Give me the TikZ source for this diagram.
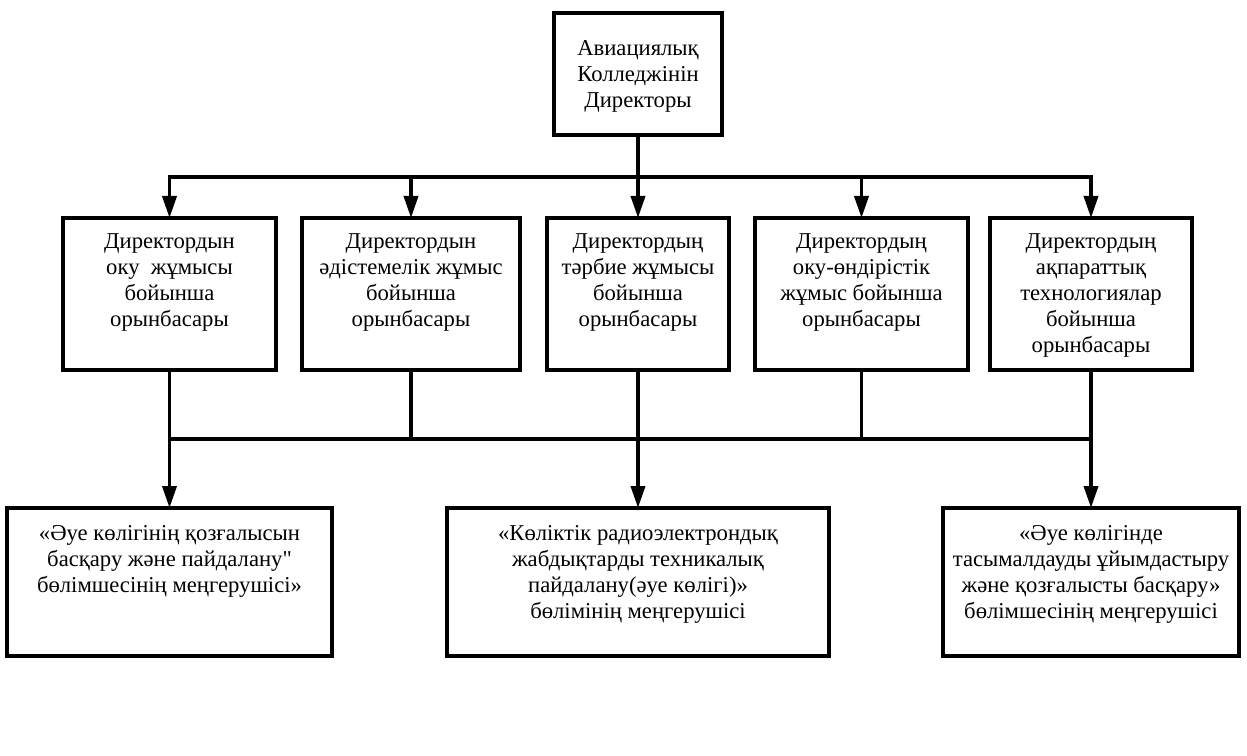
\documentclass[tikz,border=0pt]{standalone}
\usepackage{fontspec}
\setmainfont{Liberation Serif}
\usepackage{tikz}
\usetikzlibrary{shapes,arrows.meta,positioning,calc}

\tikzset{
  box/.style={draw=black, line width=3pt, inner sep=0pt, outer sep=0pt},
  txt/.style={align=center, inner sep=0pt, font=\fontsize{17pt}{19.5pt}\selectfont},
  line/.style={draw=black, line width=2.8pt, line cap=rect},
  >={Triangle[width=10.5pt,length=16.5pt]}
}

\begin{document}
\begin{tikzpicture}[x=0.75pt,y=-0.75pt]
            \useasboundingbox (0,0) rectangle (1247,756);
            % director of the college
            \node[box, minimum width=126pt, minimum height=91.5pt] (dir) at (638,74) {};
            \node[txt, below=20.25pt of dir.north] (dirt) {Авиациялық\\Колледжінін\\Директоры};

            % deputies, one row
            \node[box, minimum width=159.75pt, minimum height=114pt] (b1) at (169.5,294) {};
            \node[box, minimum width=163.5pt, minimum height=114pt] (b2) at (411,294) {};
            \node[box, minimum width=136.5pt, minimum height=114pt] (b3) at (638,294) {};
            \node[box, minimum width=159.75pt, minimum height=114pt] (b4) at (861.5,294) {};
            \node[box, minimum width=151.5pt, minimum height=114pt] (b5) at (1091,294) {};
            \node[txt, below=11.25pt of b1.north] (b1t) {Директордын\\оку\ \ жұмысы\\бойынша\\орынбасары};
            \node[txt, below=11.25pt of b2.north] (b2t) {Директордын\\әдістемелік жұмыс\\бойынша\\орынбасары};
            \node[txt, below=11.25pt of b3.north] (b3t) {Директордың\\тәрбие жұмысы\\бойынша\\орынбасары};
            \node[txt, below=11.25pt of b4.north] (b4t) {Директордың\\оку-өндірістік\\жұмыс бойынша\\орынбасары};
            \node[txt, below=11.25pt of b5.north] (b5t) {Директордың\\ақпараттық\\технологиялар\\бойынша\\орынбасары};

            % heads of the departments
            \node[box, minimum width=243.75pt, minimum height=111pt] (c1) at (169.5,582) {};
            \node[box, minimum width=286.5pt, minimum height=111pt] (c2) at (638,582) {};
            \node[box, minimum width=222pt, minimum height=111pt] (c3) at (1091,582) {};
            \node[txt, below=12.75pt of c1.north] (c1t) {«Әуе көлігінің қозғалысын\\басқару және пайдалану\textquotedbl\\бөлімшесінің меңгерушісі»};
            \node[txt, below=12.75pt of c2.north] (c2t) {«Көліктік радиоэлектрондық\\жабдықтарды техникалық\\пайдалану(әуе көлігі)»\\бөлімінің меңгерушісі};
            \node[txt, below=12.75pt of c3.north] (c3t) {«Әуе көлігінде\\тасымалдауды ұйымдастыру\\және қозғалысты басқару»\\бөлімшесінің меңгерушісі};

            % upper bus
            \coordinate (bus1) at (638,177);
            \draw[line] (dir.south) -- (bus1);
            \draw[line] (b1.north |- bus1) -- (b5.north |- bus1);
            \foreach \i in {1,...,5}
            \draw[line,->] (b\i.north |- bus1) -- (b\i.north);

            % lower bus
            \coordinate (bus2) at (638,439);
            \foreach \i in {1,...,5}
            \draw[line] (b\i.south) -- (b\i.south |- bus2);
            \draw[line] (b1.south |- bus2) -- (b5.south |- bus2);
            \foreach \j in {1,2,3}
            \draw[line,->] (bus2 -| c\j.north) -- (c\j.north);
        \end{tikzpicture}
\end{document}
